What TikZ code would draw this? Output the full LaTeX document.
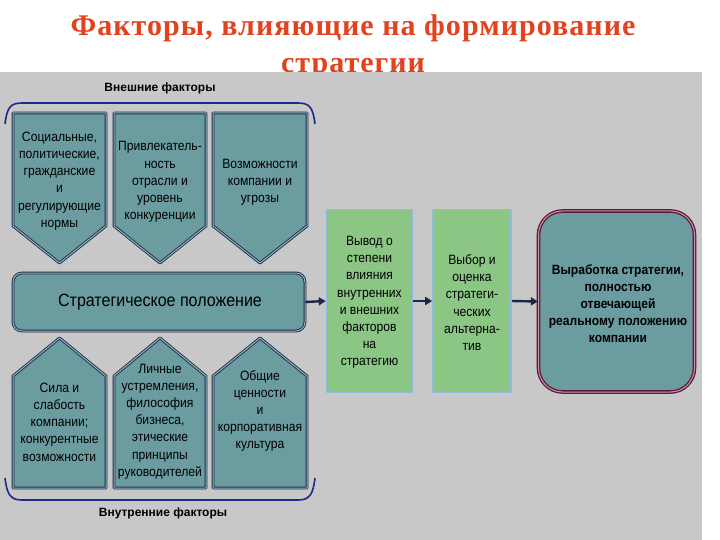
\documentclass[tikz,border=0pt]{standalone}
\usepackage{fontspec}
\setmainfont{Liberation Serif}
\newfontfamily\titlefont[LetterSpace=3.5]{Liberation Serif}
\newfontfamily\boxfont[FakeStretch=0.9]{Liberation Sans}
\newfontfamily\headfont{Liberation Sans}
\usetikzlibrary{arrows.meta}
\definecolor{titlered}{RGB}{226,66,30}
\definecolor{panelgray}{RGB}{200,200,200}
\definecolor{tealfill}{RGB}{106,156,160}
\definecolor{navy}{RGB}{28,40,72}
\definecolor{innerline}{RGB}{150,185,190}
\definecolor{greenfill}{RGB}{140,198,132}
\definecolor{lightblue}{RGB}{150,185,225}
\definecolor{maroon}{RGB}{96,24,56}
\definecolor{pinkline}{RGB}{200,150,170}
\definecolor{bracketblue}{RGB}{30,40,140}
\tikzset{
  shieldbox/.style={fill=tealfill, draw=navy, line width=0.9pt, double=innerline, double distance=1pt, line join=round},
  boxtext/.style={align=center, font=\boxfont\fontsize{13.5}{17.2}\selectfont, text=black, inner sep=0pt},
  headtext/.style={font=\headfont\bfseries\fontsize{12}{14}\selectfont, text=black, inner sep=0pt},
  bracket/.style={draw=bracketblue, line width=1.6pt},
  flowarrow/.style={draw=navy, line width=2.4pt, -{Triangle[length=7pt,width=8pt]}},
  greenbox/.style={draw=lightblue, line width=1.6pt, fill=greenfill, minimum width=86pt, minimum height=183pt, inner sep=0pt},
}
\begin{document}
\begin{tikzpicture}[x=1pt,y=-1pt]
\useasboundingbox (0,0) rectangle (720,540);
\fill[white] (0,0) rectangle (720,540);
% title
\node[font=\titlefont\bfseries\fontsize{30}{33}\selectfont, text=titlered, anchor=base] (title1) at (353,36) {Факторы, влияющие на формирование};
\node[font=\titlefont\bfseries\fontsize{30}{33}\selectfont, text=titlered, anchor=base] (title2) at (353,72.5) {стратегии};
% panel
\fill[panelgray] (0,72) rectangle (702,540);

% header
\node[headtext] (ext) at (160,88) {Внешние факторы};
\draw[bracket] (5,124) .. controls (7,108) and (10,103) .. (22,103) -- (298,103) .. controls (310,103) and (313,108) .. (315,124);

% top shields
\foreach \xa/\xb in {13/106, 114/206, 213/307}{
  \path[shieldbox] (\xa,113) -- (\xb,113) -- (\xb,226) -- ({(\xa+\xb)/2},263) -- (\xa,226) -- cycle;
}
\node[boxtext] (t1) at (59.5,181) {Социальные,\\политические,\\гражданские\\и\\регулирующие\\нормы};
\node[boxtext] (t2) at (160,182) {Привлекатель-\\ность\\отрасли и\\уровень\\конкуренции};
\node[boxtext] (t3) at (260,182) {Возможности\\компании и\\угрозы};

% middle bar
\node[shieldbox, rounded corners=9pt, minimum width=292pt, minimum height=58pt, inner sep=0pt] (bar) at (159,302) {};
\node[font=\boxfont\fontsize{17.8}{19}\selectfont, inner sep=0pt] (bartext) at (160,302) {Стратегическое положение};

% bottom houses
\foreach \xa/\xb in {13/106, 114/206, 213/307}{
  \path[shieldbox] (\xa,488) -- (\xb,488) -- (\xb,376) -- ({(\xa+\xb)/2},338) -- (\xa,376) -- cycle;
}
\node[boxtext] (b1) at (59.5,422) {Сила и\\слабость\\компании;\\конкурентные\\возможности};
\node[boxtext] (b2) at (160,421.5) {Личные\\устремления,\\философия\\бизнеса,\\этические\\принципы\\руководителей};
\node[boxtext] (b3) at (260,411) {Общие\\ценности\\и\\корпоративная\\культура};

\draw[bracket] (5,478) .. controls (7,494) and (10,500) .. (22,500) -- (298,500) .. controls (310,500) and (313,494) .. (315,478);
\node[headtext] (int) at (163,513) {Внутренние факторы};

% green boxes
\node[greenbox] (g1) at (369.5,301) {};
\node[boxtext] (g1t) at (369.5,302.5) {Вывод о\\степени\\влияния\\внутренних\\и внешних\\факторов\\на\\стратегию};
\node[greenbox, minimum width=78pt] (g2) at (472,301) {};
\node[boxtext] (g2t) at (472,302.5) {Выбор и\\оценка\\стратеги-\\ческих\\альтерна-\\тив};

% final box
\node[fill=tealfill, draw=maroon, line width=1.3pt, double=pinkline, double distance=1pt, rounded corners=24pt, minimum width=156pt, minimum height=181pt, inner sep=0pt] (fin) at (616.5,301.5) {};
\node[align=center, font=\boxfont\bfseries\fontsize{13.4}{17}\selectfont, inner sep=0pt] (fint) at (618,304) {Выработка стратегии,\\полностью\\отвечающей\\реальному положению\\компании};

% arrows
\draw[flowarrow] (bar.east) -- (g1.west);
\draw[flowarrow] (g1.east) -- (g2.west);
\draw[flowarrow] (g2.east) -- (fin.west);
\end{tikzpicture}
\end{document}
